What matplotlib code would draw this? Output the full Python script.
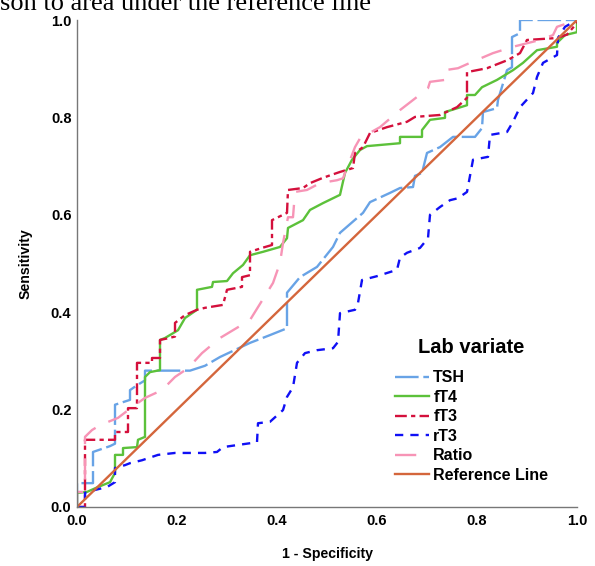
import matplotlib
matplotlib.use("Agg")
import matplotlib.pyplot as plt

plt.rcParams['font.family'] = ['Liberation Sans', 'DejaVu Sans']

# ROC curves (1 - specificity, sensitivity)
tsh_x = [0, 0, 0.032, 0.032, 0.066, 0.076, 0.076, 0.106, 0.106, 0.12, 0.136, 0.136, 0.226, 0.256, 0.286,
         0.346, 0.386, 0.42, 0.42, 0.446, 0.48, 0.512, 0.526, 0.572, 0.586, 0.626, 0.646, 0.672, 0.676,
         0.69, 0.70, 0.726, 0.752, 0.796, 0.81, 0.812, 0.84, 0.842, 0.856, 0.86, 0.87, 0.87, 0.886, 0.886, 1.0]
tsh_y = [0, 0.049, 0.049, 0.113, 0.125, 0.13, 0.21, 0.22, 0.24, 0.25, 0.26, 0.28, 0.28, 0.29, 0.308,
         0.337, 0.353, 0.367, 0.44, 0.472, 0.493, 0.534, 0.563, 0.604, 0.626, 0.645, 0.655, 0.657, 0.68,
         0.686, 0.727, 0.739, 0.76, 0.76, 0.778, 0.811, 0.819, 0.836, 0.883, 0.897, 0.903, 0.965, 0.973, 1.0, 1.0]

ft4_x = [0, 0, 0.02, 0.042, 0.066, 0.076, 0.076, 0.092, 0.092, 0.12, 0.122, 0.136, 0.136, 0.146, 0.166,
         0.166, 0.176, 0.202, 0.216, 0.24, 0.24, 0.27, 0.272, 0.30, 0.312, 0.332, 0.346, 0.372, 0.406,
         0.42, 0.422, 0.452, 0.466, 0.492, 0.526, 0.536, 0.55, 0.566, 0.58, 0.646, 0.646, 0.69, 0.69,
         0.706, 0.736, 0.736, 0.78, 0.78, 0.796, 0.81, 0.84, 0.872, 0.892, 0.92, 0.96, 0.96, 0.976, 1.0, 1.0]
ft4_y = [0, 0.029, 0.031, 0.041, 0.051, 0.07, 0.107, 0.107, 0.121, 0.123, 0.138, 0.144, 0.267, 0.277, 0.281,
         0.343, 0.347, 0.363, 0.388, 0.405, 0.446, 0.452, 0.462, 0.464, 0.48, 0.497, 0.517, 0.524, 0.534,
         0.552, 0.573, 0.589, 0.61, 0.624, 0.641, 0.686, 0.713, 0.733, 0.741, 0.747, 0.76, 0.76, 0.774,
         0.795, 0.799, 0.811, 0.825, 0.846, 0.846, 0.862, 0.877, 0.897, 0.912, 0.938, 0.945, 0.953, 0.969, 0.975, 1.0]

ft3_x = [0, 0.016, 0.016, 0.076, 0.076, 0.102, 0.102, 0.12, 0.12, 0.15, 0.15, 0.166, 0.166, 0.18, 0.196,
         0.196, 0.216, 0.24, 0.256, 0.292, 0.30, 0.33, 0.33, 0.346, 0.346, 0.37, 0.39, 0.39, 0.42, 0.422,
         0.452, 0.466, 0.492, 0.526, 0.552, 0.556, 0.572, 0.586, 0.62, 0.66, 0.676, 0.726, 0.76, 0.78,
         0.78, 0.82, 0.862, 0.886, 0.90, 0.96, 0.98, 1.0, 1.0]
ft3_y = [0, 0, 0.138, 0.138, 0.154, 0.154, 0.203, 0.203, 0.296, 0.296, 0.306, 0.306, 0.343, 0.346, 0.35,
         0.378, 0.394, 0.405, 0.409, 0.415, 0.446, 0.452, 0.472, 0.476, 0.524, 0.532, 0.538, 0.589, 0.604, 0.651,
         0.655, 0.665, 0.676, 0.688, 0.696, 0.727, 0.739, 0.768, 0.78, 0.791, 0.801, 0.805, 0.821, 0.84,
         0.893, 0.901, 0.918, 0.932, 0.959, 0.963, 0.97, 0.994, 1.0]

rt3_x = [0, 0.016, 0.016, 0.036, 0.06, 0.076, 0.076, 0.096, 0.106, 0.13, 0.162, 0.196, 0.256, 0.28, 0.292,
         0.36, 0.362, 0.386, 0.412, 0.42, 0.432, 0.44, 0.456, 0.48, 0.512, 0.522, 0.526, 0.556, 0.562,
         0.57, 0.60, 0.64, 0.646, 0.66, 0.686, 0.702, 0.706, 0.726, 0.746, 0.762, 0.78, 0.792, 0.822,
         0.826, 0.86, 0.872, 0.886, 0.912, 0.92, 0.932, 0.96, 0.962, 0.976, 1.0]
rt3_y = [0, 0, 0.029, 0.035, 0.041, 0.051, 0.08, 0.086, 0.09, 0.096, 0.107, 0.111, 0.111, 0.113, 0.123,
         0.133, 0.172, 0.175, 0.199, 0.226, 0.246, 0.296, 0.316, 0.322, 0.326, 0.339, 0.398, 0.405, 0.419,
         0.466, 0.474, 0.487, 0.512, 0.522, 0.532, 0.552, 0.6, 0.616, 0.63, 0.634, 0.647, 0.713, 0.719,
         0.764, 0.77, 0.791, 0.821, 0.85, 0.883, 0.912, 0.928, 0.963, 0.986, 1.0]

ratio_x = [0, 0, 0.016, 0.016, 0.03, 0.046, 0.082, 0.11, 0.136, 0.17, 0.196, 0.222, 0.25, 0.286, 0.346,
           0.392, 0.406, 0.412, 0.422, 0.432, 0.436, 0.46, 0.486, 0.52, 0.532, 0.556, 0.566, 0.606, 0.646,
           0.68, 0.702, 0.706, 0.736, 0.736, 0.762, 0.786, 0.832, 0.872, 0.926, 0.952, 0.96, 1.0]
ratio_y = [0, 0.031, 0.031, 0.144, 0.158, 0.168, 0.183, 0.205, 0.224, 0.24, 0.267, 0.285, 0.316, 0.347, 0.384,
           0.46, 0.501, 0.542, 0.595, 0.595, 0.647, 0.651, 0.665, 0.671, 0.675, 0.739, 0.757, 0.78, 0.815,
           0.842, 0.86, 0.873, 0.877, 0.897, 0.901, 0.912, 0.932, 0.945, 0.959, 0.969, 0.986, 1.0]

ref_x = [0, 1]
ref_y = [0, 1]

fig = plt.figure(figsize=(5.95, 5.66), dpi=100)
ax = fig.add_axes([77 / 595, 59 / 566, 500 / 595, 487 / 566])

lw = 1.7
ax.plot(tsh_x, tsh_y, color='#68a3e6', lw=lw, dashes=(10, 2), label='TSH')
ax.plot(ft4_x, ft4_y, color='#5cc13a', lw=lw, label='fT4')
ax.plot(ft3_x, ft3_y, color='#d4103c', lw=lw, dashes=(5, 1.8, 1.8, 1.8), label='fT3')
ax.plot(rt3_x, rt3_y, color='#1010f5', lw=lw, dashes=(3.5, 3), label='rT3')
ax.plot(ratio_x, ratio_y, color='#f794b6', lw=lw, dashes=(9, 6), label='Ratio')
ax.plot(ref_x, ref_y, color='#d4663c', lw=lw, label='Reference Line')

ax.set_xlim(0, 1)
ax.set_ylim(0, 1)
ticks = [0.0, 0.2, 0.4, 0.6, 0.8, 1.0]
ax.set_xticks(ticks)
ax.set_yticks(ticks)
ax.set_xticklabels([f'{t:.1f}' for t in ticks], fontweight='bold', fontsize=10.5)
ax.set_yticklabels([f'{t:.1f}' for t in ticks], fontweight='bold', fontsize=10.5)
ax.tick_params(axis='x', length=0, pad=5)
ax.tick_params(axis='y', length=0, pad=4)
for s in ['top', 'right']:
    ax.spines[s].set_visible(False)
for s in ['left', 'bottom']:
    ax.spines[s].set_color('#777777')
    ax.spines[s].set_linewidth(1.0)

ax.set_xlabel('1 - Specificity', fontweight='bold', fontsize=10.2, labelpad=14)
ax.set_ylabel('Sensitivity', fontweight='bold', fontsize=10.2, labelpad=13)

leg = ax.legend(loc='upper left', bbox_to_anchor=(0.636, 0.348), frameon=False,
                title='Lab variate', prop={'weight': 'bold', 'size': 11.5},
                handlelength=2.1, handletextpad=0.3, labelspacing=0.28,
                borderpad=0, borderaxespad=0)
leg.get_title().set_fontweight('bold')
leg.get_title().set_fontsize(14.5)
leg._legend_box.sep = 10

fig.text(0.0, 1 - 10 / 566, 'son to area under the reference line', family=['Liberation Serif', 'DejaVu Serif'],
         fontsize=19, ha='left', va='baseline')

fig.savefig('out.png', dpi=100)
